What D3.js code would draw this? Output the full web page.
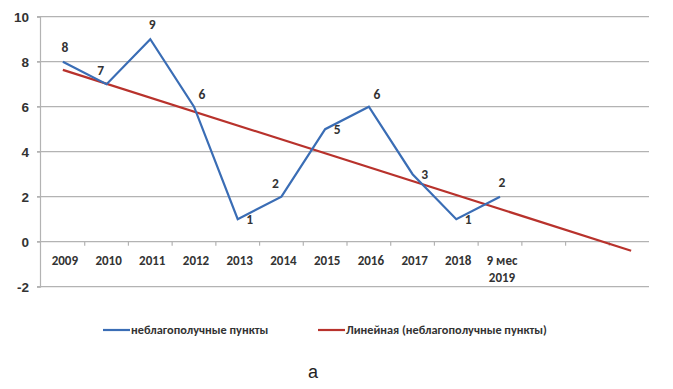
<!DOCTYPE html>
<html><head><meta charset="utf-8">
<script src="https://cdn.jsdelivr.net/npm/d3@7"></script>
<style>body{margin:0;background:#fff;}svg{display:block;font-family:Calibri,Carlito,Lato,"Open Sans","DejaVu Sans",sans-serif;}</style>
</head><body><svg id="c" width="673" height="389"></svg>
<script>
const categories = ["2009","2010","2011","2012","2013","2014","2015","2016","2017","2018","9 мес\n2019","","",""];
const values = [8,7,9,6,1,2,5,6,3,1,2];
const labelPos = ["above","aboveLeft","above","aboveRight","right","aboveLeft","right","aboveRight","right","right","above"];
const yTicks = [-2,0,2,4,6,8,10];
const seriesName = "неблагополучные пункты";
const trendName = "Линейная (неблагополучные пункты)";
const forecastPeriods = 3;

const svg = d3.select("#c");
const x = d3.scaleBand().domain(d3.range(categories.length)).range([41, 653]).padding(0);
const y = d3.scaleLinear().domain([-2,10]).range([286.7,16.7]);
const cx = i => x(i) + x.bandwidth()/2;
const blue = "#3a6db5", red = "#b8322c", grid = "#b3b3b3", txt = "#333";

svg.append("g").selectAll("line").data(yTicks).join("line")
  .attr("x1",37).attr("x2",649).attr("y1",d=>y(d)).attr("y2",d=>y(d))
  .attr("stroke",grid).attr("stroke-width",1.2);
const yAxis = svg.append("g").attr("transform","translate(40,0)")
  .call(d3.axisLeft(y).tickValues(yTicks).tickSize(3).tickPadding(8).tickFormat(d=>String(d)));
yAxis.select(".domain").attr("stroke",grid).attr("stroke-width",1.2);
yAxis.selectAll(".tick line").attr("stroke",grid);
yAxis.selectAll("text").attr("font-size",13.5).attr("fill",txt).attr("font-weight","bold");

svg.append("g").selectAll("line").data(d3.range(1,categories.length)).join("line")
  .attr("x1",i=>x(i)).attr("x2",i=>x(i)).attr("y1",y(0)).attr("y2",y(0)+4)
  .attr("stroke",grid).attr("stroke-width",1.2);
const xl = svg.append("g").selectAll("text").data(categories.map((c,i)=>({c,i}))).join("text")
  .attr("x",d=>cx(d.i)+2).attr("y",y(0)+23)
  .attr("text-anchor","middle").attr("font-size",13).attr("font-weight","bold").attr("fill",txt);
xl.each(function(d){
  const lines = d.c.split("\n");
  d3.select(this).selectAll("tspan").data(lines).join("tspan")
    .attr("x",cx(d.i)+2).attr("dy",(l,k)=>k===0?0:17).text(l=>l);
});

const n = values.length;
const xs = d3.range(1,n+1);
const mx = d3.mean(xs), my = d3.mean(values);
const slope = d3.sum(xs,(v,i)=>(v-mx)*(values[i]-my))/d3.sum(xs,v=>(v-mx)*(v-mx));
const icpt = my - slope*mx;
const tEnd = n + forecastPeriods;
svg.append("line")
  .attr("x1",cx(0)).attr("y1",y(icpt+slope*1))
  .attr("x2",cx(tEnd-1)).attr("y2",y(icpt+slope*tEnd))
  .attr("stroke",red).attr("stroke-width",2.2);

svg.append("path").datum(values)
  .attr("d",d3.line().x((d,i)=>cx(i)).y(d=>y(d)))
  .attr("fill","none").attr("stroke",blue).attr("stroke-width",2.2);

const off = {above:[2,-10], aboveLeft:[-6,-9], aboveRight:[8,-8], right:[12,5]};
svg.append("g").selectAll("text").data(values).join("text")
  .attr("x",(d,i)=>cx(i)+off[labelPos[i]][0])
  .attr("y",(d,i)=>y(d)+off[labelPos[i]][1])
  .attr("text-anchor","middle").attr("font-size",13.5).attr("font-weight","bold").attr("fill",txt)
  .text(d=>d);

const lg = svg.append("g");
[{name:seriesName,color:blue,x:103},{name:trendName,color:red,x:318}].forEach(e=>{
  lg.append("line").attr("x1",e.x).attr("x2",e.x+27).attr("y1",330).attr("y2",330)
    .attr("stroke",e.color).attr("stroke-width",2.2);
  lg.append("text").attr("x",e.x+28).attr("y",334).attr("font-size",12.3).attr("font-weight","bold")
    .attr("fill",txt).text(e.name);
});
svg.append("text").attr("x",313).attr("y",378).attr("text-anchor","middle")
  .attr("font-size",18).attr("fill","#222").attr("font-family","Arial, Liberation Sans, sans-serif").text("а");
</script></body></html>
